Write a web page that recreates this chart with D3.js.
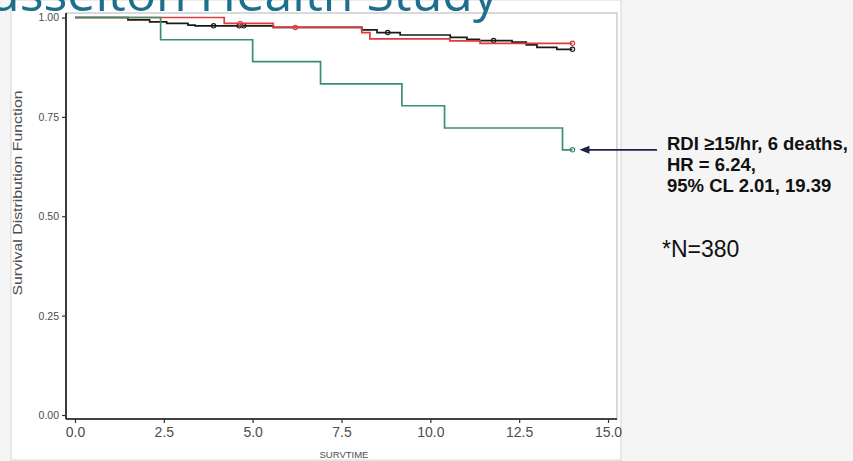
<!DOCTYPE html>
<html>
<head>
<meta charset="utf-8">
<script src="https://cdn.jsdelivr.net/npm/d3@7"></script>
<style>
  html, body { margin: 0; padding: 0; background: #f5f5f5; }
  svg { display: block; }
</style>
</head>
<body>
<svg id="chart" width="853" height="461"></svg>
<script>
// Kaplan-Meier survival by RDI group (time in years)
const xTicks = [0, 2.5, 5, 7.5, 10, 12.5, 15];
const yTicks = [0, 0.25, 0.5, 0.75, 1];

// RDI < 5/hr
const lowTime = [0, 1.49, 2.1, 2.58, 3.18, 3.38, 5.58, 8.07, 8.5, 9.15, 10.56, 11.03, 11.38, 12.3, 12.7, 13.0, 13.56, 14.0];
const lowSurv = [1, 0.994, 0.989, 0.985, 0.981, 0.979, 0.975, 0.969, 0.962, 0.956, 0.950, 0.945, 0.942, 0.938, 0.931, 0.925, 0.920, 0.920];
const lowCensorTime = [3.9, 4.62, 4.75, 8.8, 11.78, 14.0];
const lowCensorSurv = [0.979, 0.979, 0.979, 0.962, 0.942, 0.920];

// RDI 5-15/hr
const midTime = [0, 4.2, 5.58, 8.07, 8.3, 10.55, 11.4, 14.0];
const midSurv = [1, 0.985, 0.975, 0.962, 0.946, 0.941, 0.935, 0.935];
const midCensorTime = [4.65, 6.2, 14.0];
const midCensorSurv = [0.985, 0.975, 0.935];

// RDI >= 15/hr
const highTime = [0, 2.41, 5.0, 6.91, 9.2, 10.4, 13.72, 14.0];
const highSurv = [1, 0.944, 0.889, 0.833, 0.778, 0.722, 0.667, 0.667];
const highCensorTime = [14.0];
const highCensorSurv = [0.667];

const annotationLines = ["RDI \u226515/hr, 6 deaths,", "HR = 6.24,", "95% CL 2.01, 19.39"];

const svg = d3.select("#chart");

// white plot image
svg.append("rect")
  .attr("x", 11).attr("y", 0).attr("width", 610).attr("height", 460)
  .attr("fill", "#ffffff").attr("stroke", "#d6d6d6").attr("stroke-width", 1);

const panel = { left: 66, right: 617, top: 13, bottom: 419 };
const x = d3.scaleLinear().domain([0, 15]).range([75, 608]);
const y = d3.scaleLinear().domain([0, 1]).range([415, 17.5]);

svg.append("rect")
  .attr("x", panel.left).attr("y", panel.top)
  .attr("width", panel.right - panel.left).attr("height", panel.bottom - panel.top)
  .attr("fill", "#ffffff").attr("stroke", "#b5b5b5").attr("stroke-width", 1);

const xAxis = svg.append("g")
  .attr("transform", `translate(0,${panel.bottom})`)
  .call(d3.axisBottom(x).tickValues(xTicks).tickFormat(d3.format(".1f")).tickSize(4).tickPadding(4));
xAxis.select(".domain").attr("d", `M${panel.left},0H${panel.right}`).attr("stroke", "#111").attr("stroke-width", 1.6);
xAxis.selectAll(".tick line").attr("stroke", "#333").attr("stroke-width", 1.2);
xAxis.selectAll(".tick text")
  .attr("font-family", "'Liberation Sans', Arial, sans-serif")
  .attr("font-size", 14).attr("fill", "#4d4d4d");

const yAxis = svg.append("g")
  .attr("transform", `translate(${panel.left},0)`)
  .call(d3.axisLeft(y).tickValues(yTicks).tickFormat(d3.format(".2f")).tickSize(4).tickPadding(3));
yAxis.select(".domain").attr("d", `M0,${panel.top}V${panel.bottom}`).attr("stroke", "#111").attr("stroke-width", 1.6);
yAxis.selectAll(".tick line").attr("stroke", "#333").attr("stroke-width", 1.2);
yAxis.selectAll(".tick text")
  .attr("font-family", "'Liberation Sans', Arial, sans-serif")
  .attr("font-size", 10.5).attr("fill", "#4d4d4d");

// axis titles
svg.append("text")
  .attr("x", 344).attr("y", 458)
  .attr("text-anchor", "middle")
  .attr("font-family", "'Liberation Sans', Arial, sans-serif")
  .attr("font-size", 9.5).attr("fill", "#4d4d4d")
  .text("SURVTIME");

svg.append("text")
  .attr("transform", "translate(22,193) rotate(-90)")
  .attr("text-anchor", "middle")
  .attr("font-family", "'Liberation Sans', Arial, sans-serif")
  .attr("font-size", 12.5).attr("fill", "#4d4d4d")
  .attr("textLength", 205).attr("lengthAdjust", "spacingAndGlyphs")
  .text("Survival Distribution Function");

// survival curves
const step = d3.line().curve(d3.curveStepAfter).x(d => x(d[0])).y(d => y(d[1]));
const groups = [
  { t: lowTime, s: lowSurv, ct: lowCensorTime, cs: lowCensorSurv, color: "#1a1a1a" },
  { t: midTime, s: midSurv, ct: midCensorTime, cs: midCensorSurv, color: "#e0393e" },
  { t: highTime, s: highSurv, ct: highCensorTime, cs: highCensorSurv, color: "#3a9068" }
];
groups.forEach(g => {
  svg.append("path")
    .attr("d", step(d3.zip(g.t, g.s)))
    .attr("fill", "none").attr("stroke", g.color).attr("stroke-width", 1.7);
  svg.selectAll(null).data(d3.zip(g.ct, g.cs)).join("circle")
    .attr("cx", d => x(d[0])).attr("cy", d => y(d[1])).attr("r", 2.2)
    .attr("fill", "none").attr("stroke", g.color).attr("stroke-width", 1.1);
});

// slide title, partly above the top edge
svg.append("text")
  .attr("x", 498).attr("y", 11)
  .attr("text-anchor", "end")
  .attr("font-family", "'Open Sans', 'Noto Sans', sans-serif")
  .attr("font-size", 50)
  .attr("fill", "#1d6f8d")
  .text("Busselton Health Study");

// annotation arrow and text
const tipX = x(highCensorTime[0]) + 7;
const tipY = y(highCensorSurv[0]);
svg.append("line")
  .attr("x1", 657).attr("y1", tipY).attr("x2", tipX + 8).attr("y2", tipY)
  .attr("stroke", "#1c2345").attr("stroke-width", 1.6);
svg.append("path")
  .attr("d", `M${tipX},${tipY}L${tipX + 10},${tipY - 4}L${tipX + 10},${tipY + 4}Z`)
  .attr("fill", "#1c2345");

svg.append("g").selectAll("text").data(annotationLines).join("text")
  .attr("x", 667).attr("y", (d, i) => 149.5 + i * 21)
  .attr("font-family", "'Liberation Sans', Arial, sans-serif")
  .attr("font-weight", "bold").attr("font-size", 18.5).attr("fill", "#111")
  .text(d => d);

svg.append("text")
  .attr("x", 662).attr("y", 257)
  .attr("font-family", "'Liberation Sans', Arial, sans-serif")
  .attr("font-size", 23).attr("fill", "#111")
  .text("*N=380");
</script>
</body>
</html>
